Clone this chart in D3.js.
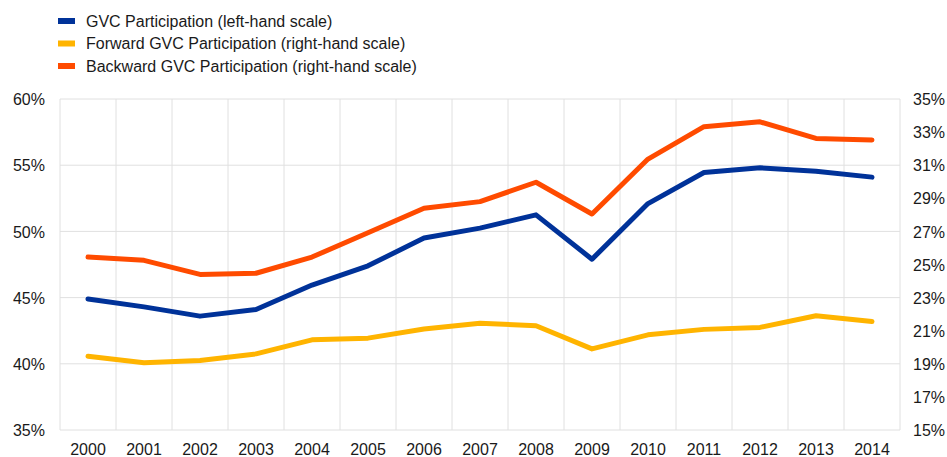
<!DOCTYPE html>
<html>
<head>
<meta charset="utf-8">
<script src="https://cdn.jsdelivr.net/npm/d3@7"></script>
<style>
  body { margin: 0; background: #fff; }
  text { font-family: "Liberation Sans", Arial, sans-serif; fill: #1a1a1a; }
</style>
</head>
<body>
<div id="chart"></div>
<script>
var years = ["2000","2001","2002","2003","2004","2005","2006","2007","2008","2009","2010","2011","2012","2013","2014"];
// left-hand scale
var gvc = [44.9, 44.3, 43.6, 44.1, 45.95, 47.4, 49.5, 50.25, 51.25, 47.9, 52.1, 54.45, 54.8, 54.55, 54.1];
// right-hand scale
var forward = [19.45, 19.07, 19.2, 19.6, 20.45, 20.55, 21.1, 21.45, 21.3, 19.9, 20.75, 21.08, 21.2, 21.9, 21.55];
var backward = [25.45, 25.25, 24.4, 24.47, 25.45, 26.92, 28.4, 28.8, 29.97, 28.05, 31.37, 33.33, 33.62, 32.62, 32.52];
var leftTicks = [35, 40, 45, 50, 55, 60];
var rightTicks = [15, 17, 19, 21, 23, 25, 27, 29, 31, 33, 35];

var series = [
  {name: "GVC Participation (left-hand scale)", values: gvc, color: "#003299", axis: "left"},
  {name: "Forward GVC Participation (right-hand scale)", values: forward, color: "#ffb400", axis: "right"},
  {name: "Backward GVC Participation (right-hand scale)", values: backward, color: "#ff4b00", axis: "right"}
];

var width = 947, height = 457;
var margin = {top: 99, right: 47, bottom: 27, left: 60};
var w = width - margin.left - margin.right,
    h = height - margin.top - margin.bottom;

var svg = d3.select("#chart").append("svg")
  .attr("width", width)
  .attr("height", height);

var x = d3.scaleBand().domain(years).range([0, w]);
var yL = d3.scaleLinear().domain([35, 60]).range([h, 0]);
var yR = d3.scaleLinear().domain([15, 35]).range([h, 0]);

var g = svg.append("g").attr("transform", "translate(" + margin.left + "," + margin.top + ")");

var grid = "#e0e0e0";

// horizontal gridlines on the left-hand ticks
g.selectAll(".hgrid").data(leftTicks).enter().append("line")
  .attr("x1", 0).attr("x2", w)
  .attr("y1", function(d) { return yL(d); })
  .attr("y2", function(d) { return yL(d); })
  .attr("stroke", grid).attr("stroke-width", 1);

// vertical gridlines between categories
var bounds = years.map(function(d) { return x(d); }).concat([w]);
g.selectAll(".vgrid").data(bounds).enter().append("line")
  .attr("x1", function(d) { return d; }).attr("x2", function(d) { return d; })
  .attr("y1", 0).attr("y2", h)
  .attr("stroke", grid).attr("stroke-width", 1);

// axes
var leftAxis = d3.axisLeft(yL).tickValues(leftTicks).tickSize(0).tickPadding(15)
  .tickFormat(function(d) { return d + "%"; });
var gl = g.append("g").call(leftAxis);
gl.select(".domain").remove();
gl.selectAll("text").style("font-size", "16px").attr("dy", "0.35em");

var rightAxis = d3.axisRight(yR).tickValues(rightTicks).tickSize(0).tickPadding(13)
  .tickFormat(function(d) { return d + "%"; });
var gr = g.append("g").attr("transform", "translate(" + w + ",0)").call(rightAxis);
gr.select(".domain").remove();
gr.selectAll("text").style("font-size", "16px").attr("dy", "0.35em");

var bottomAxis = d3.axisBottom(x).tickSize(0).tickPadding(14);
var gb = g.append("g").attr("transform", "translate(0," + h + ")").call(bottomAxis);
gb.select(".domain").remove();
gb.selectAll("text").style("font-size", "16px");

// lines
series.forEach(function(s) {
  var yy = s.axis === "left" ? yL : yR;
  var line = d3.line()
    .x(function(d, i) { return x(years[i]) + x.bandwidth() / 2; })
    .y(function(d) { return yy(d); });
  g.append("path")
    .datum(s.values)
    .attr("d", line)
    .attr("fill", "none")
    .attr("stroke", s.color)
    .attr("stroke-width", 5)
    .attr("stroke-linejoin", "round")
    .attr("stroke-linecap", "round");
});

// legend
var legend = svg.append("g").attr("transform", "translate(58,21)");
var lg = legend.selectAll(".item").data(series).enter().append("g")
  .attr("transform", function(d, i) { return "translate(0," + (i * 22.5) + ")"; });
lg.append("rect")
  .attr("x", 0).attr("y", -3).attr("width", 17).attr("height", 6)
  .attr("fill", function(d) { return d.color; });
lg.append("text")
  .attr("x", 28).attr("dy", "0.35em")
  .style("font-size", "16px")
  .text(function(d) { return d.name; });
</script>
</body>
</html>
